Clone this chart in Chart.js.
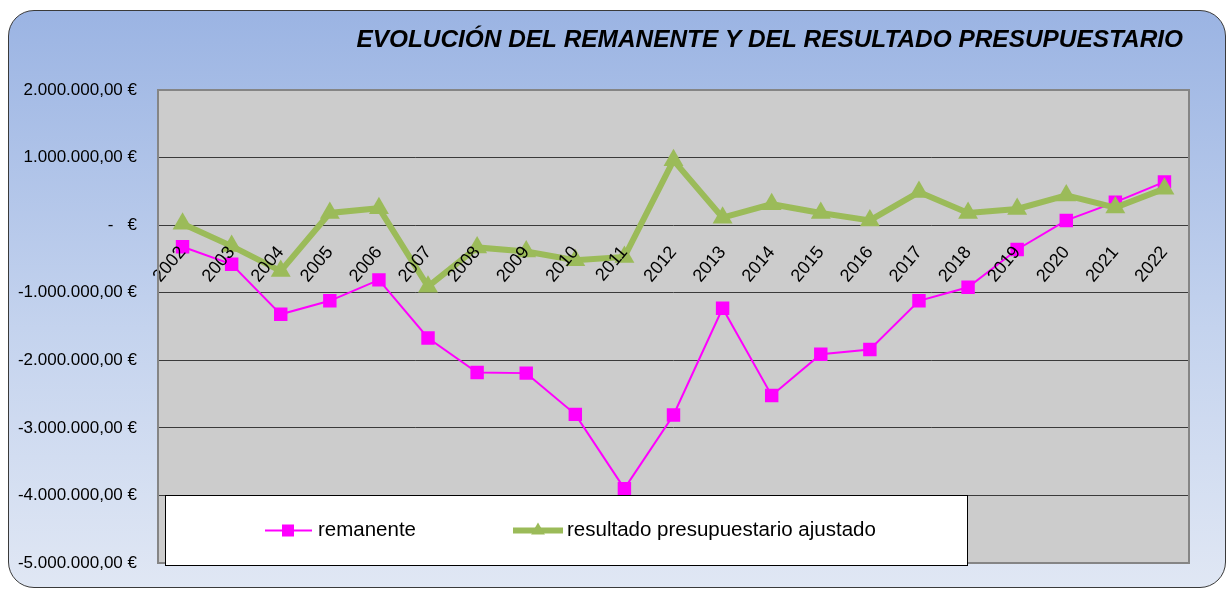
<!DOCTYPE html>
<html>
<head>
<meta charset="utf-8">
<script src="https://cdn.jsdelivr.net/npm/chart.js@4/dist/chart.umd.min.js"></script>
<style>
  html, body { margin: 0; padding: 0; background: #fff; }
  #wrap { position: relative; width: 1229px; height: 590px; overflow: hidden; }
  #frame {
    position: absolute; left: 8px; top: 10px; width: 1216px; height: 576px;
    border: 1.5px solid #3a3a3a; border-radius: 26px;
    background: linear-gradient(#9bb4e3, #c4d3ee 55%, #e0e7f4);
  }
  canvas { position: absolute; left: 0; top: 0; }
</style>
</head>
<body>
<div id="wrap">
  <div id="frame"></div>
  <canvas id="myChart" width="1229" height="590"></canvas>
</div>
<script>
// data
const years = ["2002", "2003", "2004", "2005", "2006", "2007", "2008", "2009", "2010", "2011",
  "2012", "2013", "2014", "2015", "2016", "2017", "2018", "2019", "2020", "2021", "2022"];
const remanente = [-320000, -580000, -1320000, -1120000, -810000, -1670000, -2180000, -2190000,
  -2800000, -3900000, -2810000, -1230000, -2520000, -1910000, -1840000, -1120000, -920000,
  -360000, 70000, 340000, 640000];
const resultado = [20000, -310000, -680000, 180000, 250000, -910000, -330000, -390000, -520000,
  -470000, 960000, 110000, 310000, 180000, 70000, 490000, 180000, 240000, 440000, 260000, 540000];
const seriesNames = ["remanente", "resultado presupuestario ajustado"];
const titleText = "EVOLUCIÓN DEL REMANENTE Y DEL RESULTADO PRESUPUESTARIO";
const yMin = -5000000;
const yMax = 2000000;
const yStep = 1000000;

const FONT = "'Liberation Sans', Arial, sans-serif";
const MAGENTA = "#ff00ff";
const GREEN = "#9bbb59";

const euro = (v) => {
  if (v === 0) return "-   €";
  const s = Math.abs(v).toString().replace(/\B(?=(\d{3})+(?!\d))/g, ".");
  return (v < 0 ? "-" : "") + s + ",00 €";
};

const drawSquare = (ctx, x, y, half) => {
  ctx.fillStyle = MAGENTA;
  ctx.fillRect(x - half, y - half, half * 2, half * 2);
};
const drawTriangle = (ctx, x, y, r) => {
  ctx.fillStyle = GREEN;
  ctx.beginPath();
  ctx.moveTo(x, y - r);
  ctx.lineTo(x + r * 0.866, y + r * 0.5);
  ctx.lineTo(x - r * 0.866, y + r * 0.5);
  ctx.closePath();
  ctx.fill();
};

// grey plot background, plot border, title and the boxed legend
const plotBg = {
  id: "plotBg",
  beforeDraw(chart) {
    const { ctx, chartArea: a } = chart;
    ctx.save();
    ctx.fillStyle = "#cccccc";
    ctx.fillRect(a.left, a.top, a.right - a.left, a.bottom - a.top);
    ctx.restore();
  },
  afterDraw(chart) {
    const { ctx, chartArea: a } = chart;
    ctx.save();
    ctx.strokeStyle = "#858585";
    ctx.lineWidth = 2;
    ctx.strokeRect(a.left, a.top, a.right - a.left, a.bottom - a.top);

    ctx.fillStyle = "#000";
    ctx.font = "italic bold 24.4px " + FONT;
    ctx.textAlign = "right";
    ctx.textBaseline = "middle";
    ctx.fillText(titleText, a.right - 6, 40);

    const top = Math.round(chart.scales.y.getPixelForValue(-4000000)) + 0.5;
    const bottom = a.bottom + 2.5;
    const left = a.left + 7.5;
    const right = a.left + 809.5;
    ctx.fillStyle = "#ffffff";
    ctx.fillRect(left, top, right - left, bottom - top);
    ctx.strokeStyle = "#000000";
    ctx.lineWidth = 1;
    ctx.strokeRect(left, top, right - left, bottom - top);

    const cy = (top + bottom) / 2;
    ctx.font = "20.5px " + FONT;
    ctx.textBaseline = "middle";
    ctx.textAlign = "left";

    ctx.strokeStyle = MAGENTA;
    ctx.lineWidth = 2;
    ctx.beginPath();
    ctx.moveTo(a.left + 107, cy);
    ctx.lineTo(a.left + 154, cy);
    ctx.stroke();
    drawSquare(ctx, a.left + 130, cy, 6);
    ctx.fillStyle = "#000";
    ctx.fillText(seriesNames[0], a.left + 160, cy);

    ctx.strokeStyle = GREEN;
    ctx.lineWidth = 6;
    ctx.beginPath();
    ctx.moveTo(a.left + 355, cy);
    ctx.lineTo(a.left + 405, cy);
    ctx.stroke();
    drawTriangle(ctx, a.left + 380, cy, 8);
    ctx.fillStyle = "#000";
    ctx.fillText(seriesNames[1], a.left + 409, cy);
    ctx.restore();
  },
};

const ctx = document.getElementById("myChart").getContext("2d");
const chart = new Chart(ctx, {
  type: "line",
  data: {
    labels: years,
    datasets: [
      {
        label: seriesNames[0],
        data: remanente,
        borderColor: MAGENTA,
        backgroundColor: MAGENTA,
        borderWidth: 2,
        pointStyle: "rect",
        pointRadius: 9.5,
        pointBorderWidth: 0,
        tension: 0,
        order: 2,
      },
      {
        label: seriesNames[1],
        data: resultado,
        borderColor: GREEN,
        backgroundColor: GREEN,
        borderWidth: 6,
        pointStyle: "triangle",
        pointRadius: 11.5,
        pointBorderWidth: 0,
        tension: 0,
        order: 1,
      },
    ],
  },
  options: {
    responsive: false,
    animation: false,
    layout: { padding: { left: 8, right: 40, top: 90, bottom: 27 } },
    plugins: {
      legend: { display: false },
      tooltip: { enabled: false },
      title: { display: false },
    },
    scales: {
      x: {
        type: "category",
        offset: true,
        position: { y: 0 },
        grid: { display: false },
        border: { display: false },
        ticks: {
          z: 1,
          color: "#000",
          autoSkip: false,
          minRotation: 50,
          maxRotation: 50,
          padding: 9,
          font: { family: FONT, size: 18 },
        },
      },
      y: {
        min: yMin,
        max: yMax,
        afterFit(scale) {
          scale.width = 150;
          scale.paddingTop = 0;
          scale.paddingBottom = 0;
        },
        border: { display: false },
        grid: { color: "#3a3a3a", lineWidth: 1, drawTicks: false },
        ticks: {
          stepSize: yStep,
          color: "#000",
          padding: 21,
          font: { family: FONT, size: 17 },
          callback: (v) => euro(v),
        },
      },
    },
  },
  plugins: [plotBg],
});
</script>
</body>
</html>
